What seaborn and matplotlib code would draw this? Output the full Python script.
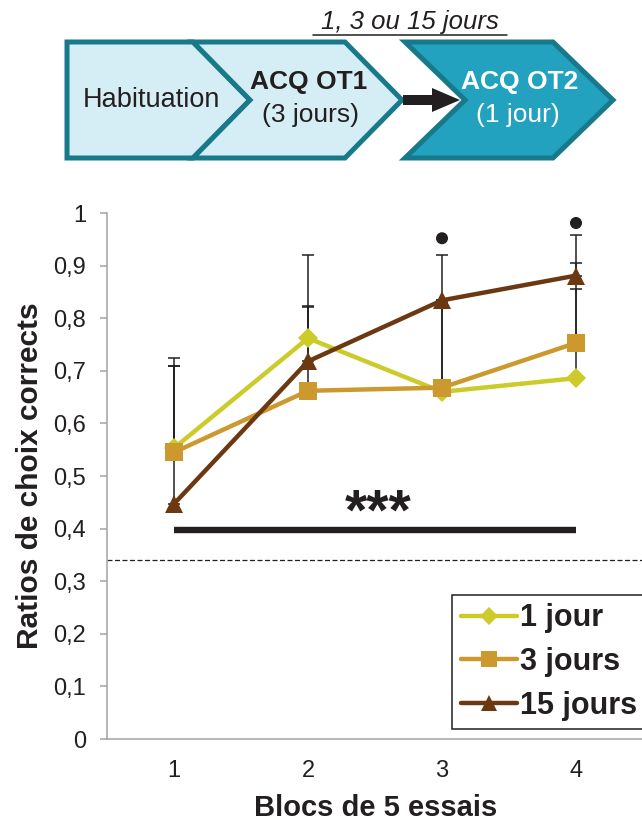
"""Ratios de choix corrects par bloc de 5 essais, selon le délai entre ACQ OT1 et ACQ OT2."""

import matplotlib.pyplot as plt
import numpy as np
import pandas as pd
import seaborn as sns
from matplotlib.lines import Line2D
from matplotlib.patches import Polygon


BLOCKS = [1, 2, 3, 4]
GROUPS = ["1 jour", "3 jours", "15 jours"]

RATIO_1_JOUR = [0.553, 0.762, 0.660, 0.686]
RATIO_3_JOURS = [0.545, 0.662, 0.668, 0.753]
RATIO_15_JOURS = [0.447, 0.718, 0.834, 0.881]

SEM_1_JOUR = [0.156, 0.158, 0.170, 0.170]
SEM_3_JOURS = [0.164, 0.160, 0.166, 0.152]
SEM_15_JOURS = [0.277, 0.106, 0.086, 0.077]

DOT_BLOCKS = [3, 4]
DOT_RATIOS = [0.952, 0.981]

SIG_BLOCKS = [1, 4]
SIG_RATIO = 0.397
CHANCE_LEVEL = 0.34

Y_TICKS = [0, 0.1, 0.2, 0.3, 0.4, 0.5, 0.6, 0.7, 0.8, 0.9, 1.0]
Y_TICK_LABELS = ["0", "0,1", "0,2", "0,3", "0,4", "0,5", "0,6", "0,7", "0,8", "0,9", "1"]

COLORS = {"1 jour": "#CCCB29", "3 jours": "#CC992E", "15 jours": "#6B3812"}
MARKERS = {"1 jour": "D", "3 jours": "s", "15 jours": "^"}
MARKER_SIZES = {"1 jour": 10.5, "3 jours": 13, "15 jours": 13.5}

DARK = "#231F20"
AXIS_GREY = "#A3A3A3"
TEAL_EDGE = "#18798A"
TEAL_LIGHT = "#D5EEF5"
TEAL_DARK = "#22A2BE"


def build_table() -> pd.DataFrame:
    """Long table of mean ratio and SEM per group and block."""
    means = [RATIO_1_JOUR, RATIO_3_JOURS, RATIO_15_JOURS]
    sems = [SEM_1_JOUR, SEM_3_JOURS, SEM_15_JOURS]
    frames = []
    for group, mean, sem in zip(GROUPS, means, sems):
        frames.append(pd.DataFrame({"bloc": BLOCKS, "ratio": mean, "sem": sem, "groupe": group}))
    return pd.concat(frames, ignore_index=True)


def draw_protocol(fig) -> None:
    """Protocol schema drawn above the chart, in pixel units."""
    ax = fig.add_axes([0, 1 - 175 / 825, 1, 175 / 825])
    ax.set_xlim(0, 642)
    ax.set_ylim(175, 0)
    ax.axis("off")

    top, mid, bottom = 42, 100, 158
    edge = dict(edgecolor=TEAL_EDGE, linewidth=3.6, joinstyle="miter")
    ax.add_patch(Polygon([(67, top), (193, top), (250, mid), (193, bottom), (67, bottom)],
                         facecolor=TEAL_LIGHT, **edge))
    ax.add_patch(Polygon([(193, top), (345, top), (402, mid), (345, bottom), (193, bottom), (250, mid)],
                         facecolor=TEAL_LIGHT, **edge))
    ax.add_patch(Polygon([(405, top), (553, top), (613, mid), (553, bottom), (405, bottom), (465, mid)],
                         facecolor=TEAL_DARK, **edge))
    ax.add_patch(Polygon([(403, 95), (432, 95), (432, 88), (460, 100), (432, 112), (432, 105), (403, 105)],
                         facecolor=DARK, edgecolor="none"))

    ax.text(151, mid, "Habituation", fontsize=19.5, color=DARK, ha="center", va="center")
    ax.text(309, 82, "ACQ OT1", fontsize=19, fontweight="bold", color=DARK, ha="center", va="center")
    ax.text(310, 115, "(3 jours)", fontsize=19, color=DARK, ha="center", va="center")
    ax.text(520, 82, "ACQ OT2", fontsize=19, fontweight="bold", color="white", ha="center", va="center")
    ax.text(518, 115, "(1 jour)", fontsize=19, color="white", ha="center", va="center")
    ax.text(410, 22, "1, 3 ou 15 jours", fontsize=18.5, style="italic", color=DARK, ha="center", va="center")
    ax.plot([313, 507], [35, 35], color=DARK, linewidth=1.1)


def main() -> None:
    sns.set_style("white")
    plt.rcParams["font.family"] = ["Liberation Sans", "DejaVu Sans"]

    data = build_table()

    fig = plt.figure(figsize=(6.42, 8.25), dpi=100)
    ax = fig.add_axes([107 / 642, 1 - 739 / 825, 536 / 642, 526 / 825])

    ax.axhline(CHANCE_LEVEL, color=DARK, linewidth=0.9, linestyle=(0, (4, 2)), zorder=1, clip_on=False)

    for group in GROUPS:
        sub = data[data["groupe"] == group]
        ax.errorbar(sub["bloc"], sub["ratio"], yerr=[np.zeros(len(sub)), sub["sem"]], fmt="none",
                    ecolor=DARK, elinewidth=1.1, capsize=4.3, capthick=1.1, zorder=2)

    for group in GROUPS:
        sub = data[data["groupe"] == group]
        sns.lineplot(data=sub, x="bloc", y="ratio", color=COLORS[group], marker=MARKERS[group],
                     markersize=MARKER_SIZES[group], markeredgecolor=COLORS[group], markeredgewidth=0,
                     linewidth=3.2, ax=ax, zorder=3, legend=False)

    sns.scatterplot(x=DOT_BLOCKS, y=DOT_RATIOS, color=DARK, s=75, edgecolor="none", ax=ax, zorder=4)
    ax.plot(SIG_BLOCKS, [SIG_RATIO, SIG_RATIO], color=DARK, linewidth=4.6, solid_capstyle="butt", zorder=4)
    ax.text(np.mean(SIG_BLOCKS) + 0.02, SIG_RATIO - 0.022, "***", fontsize=41, fontweight="bold",
            color=DARK, ha="center", va="bottom")

    ax.set_xlim(0.5, 4.5)
    ax.set_ylim(0, 1)
    ax.set_yticks(Y_TICKS)
    ax.set_yticklabels(Y_TICK_LABELS)
    ax.set_xticks(BLOCKS)
    ax.set_xticklabels([str(b) for b in BLOCKS])
    ax.set_xticks([b - 0.5 for b in BLOCKS] + [4.5], minor=True)
    ax.tick_params(axis="x", which="major", length=0, pad=15, labelsize=17, labelcolor=DARK)
    ax.tick_params(axis="x", which="minor", length=5, width=1.1, color=AXIS_GREY, direction="out")
    ax.tick_params(axis="y", length=5, width=1.1, color=AXIS_GREY, direction="out", pad=10,
                   labelsize=17, labelcolor=DARK, left=True)
    for side in ["top", "right"]:
        ax.spines[side].set_visible(False)
    for side in ["left", "bottom"]:
        ax.spines[side].set_color(AXIS_GREY)
        ax.spines[side].set_linewidth(1.1)

    ax.set_xlabel("Blocs de 5 essais", fontsize=21, fontweight="bold", color=DARK)
    ax.set_ylabel("Ratios de choix corrects", fontsize=21.5, fontweight="bold", color=DARK)
    ax.xaxis.set_label_coords(0.501, -0.105)
    ax.yaxis.set_label_coords(-0.117, 0.5)

    handles = [
        Line2D([], [], color=COLORS[g], marker=MARKERS[g], markersize=MARKER_SIZES[g] * 0.85,
               markeredgewidth=0, linewidth=3.2)
        for g in GROUPS
    ]
    legend = ax.legend(handles, GROUPS, loc="upper left", bbox_to_anchor=(0.644, 0.274),
                       borderaxespad=0, frameon=True, fancybox=False, framealpha=1,
                       prop={"size": 22, "weight": "bold"}, handlelength=1.85, handletextpad=0.1,
                       labelspacing=0.45, borderpad=0.28, numpoints=1)
    legend.get_frame().set_edgecolor(DARK)
    legend.get_frame().set_linewidth(1.1)
    for text in legend.get_texts():
        text.set_color(DARK)

    draw_protocol(fig)

    fig.savefig("out.png", dpi=100)
    plt.close(fig)


if __name__ == "__main__":
    main()
